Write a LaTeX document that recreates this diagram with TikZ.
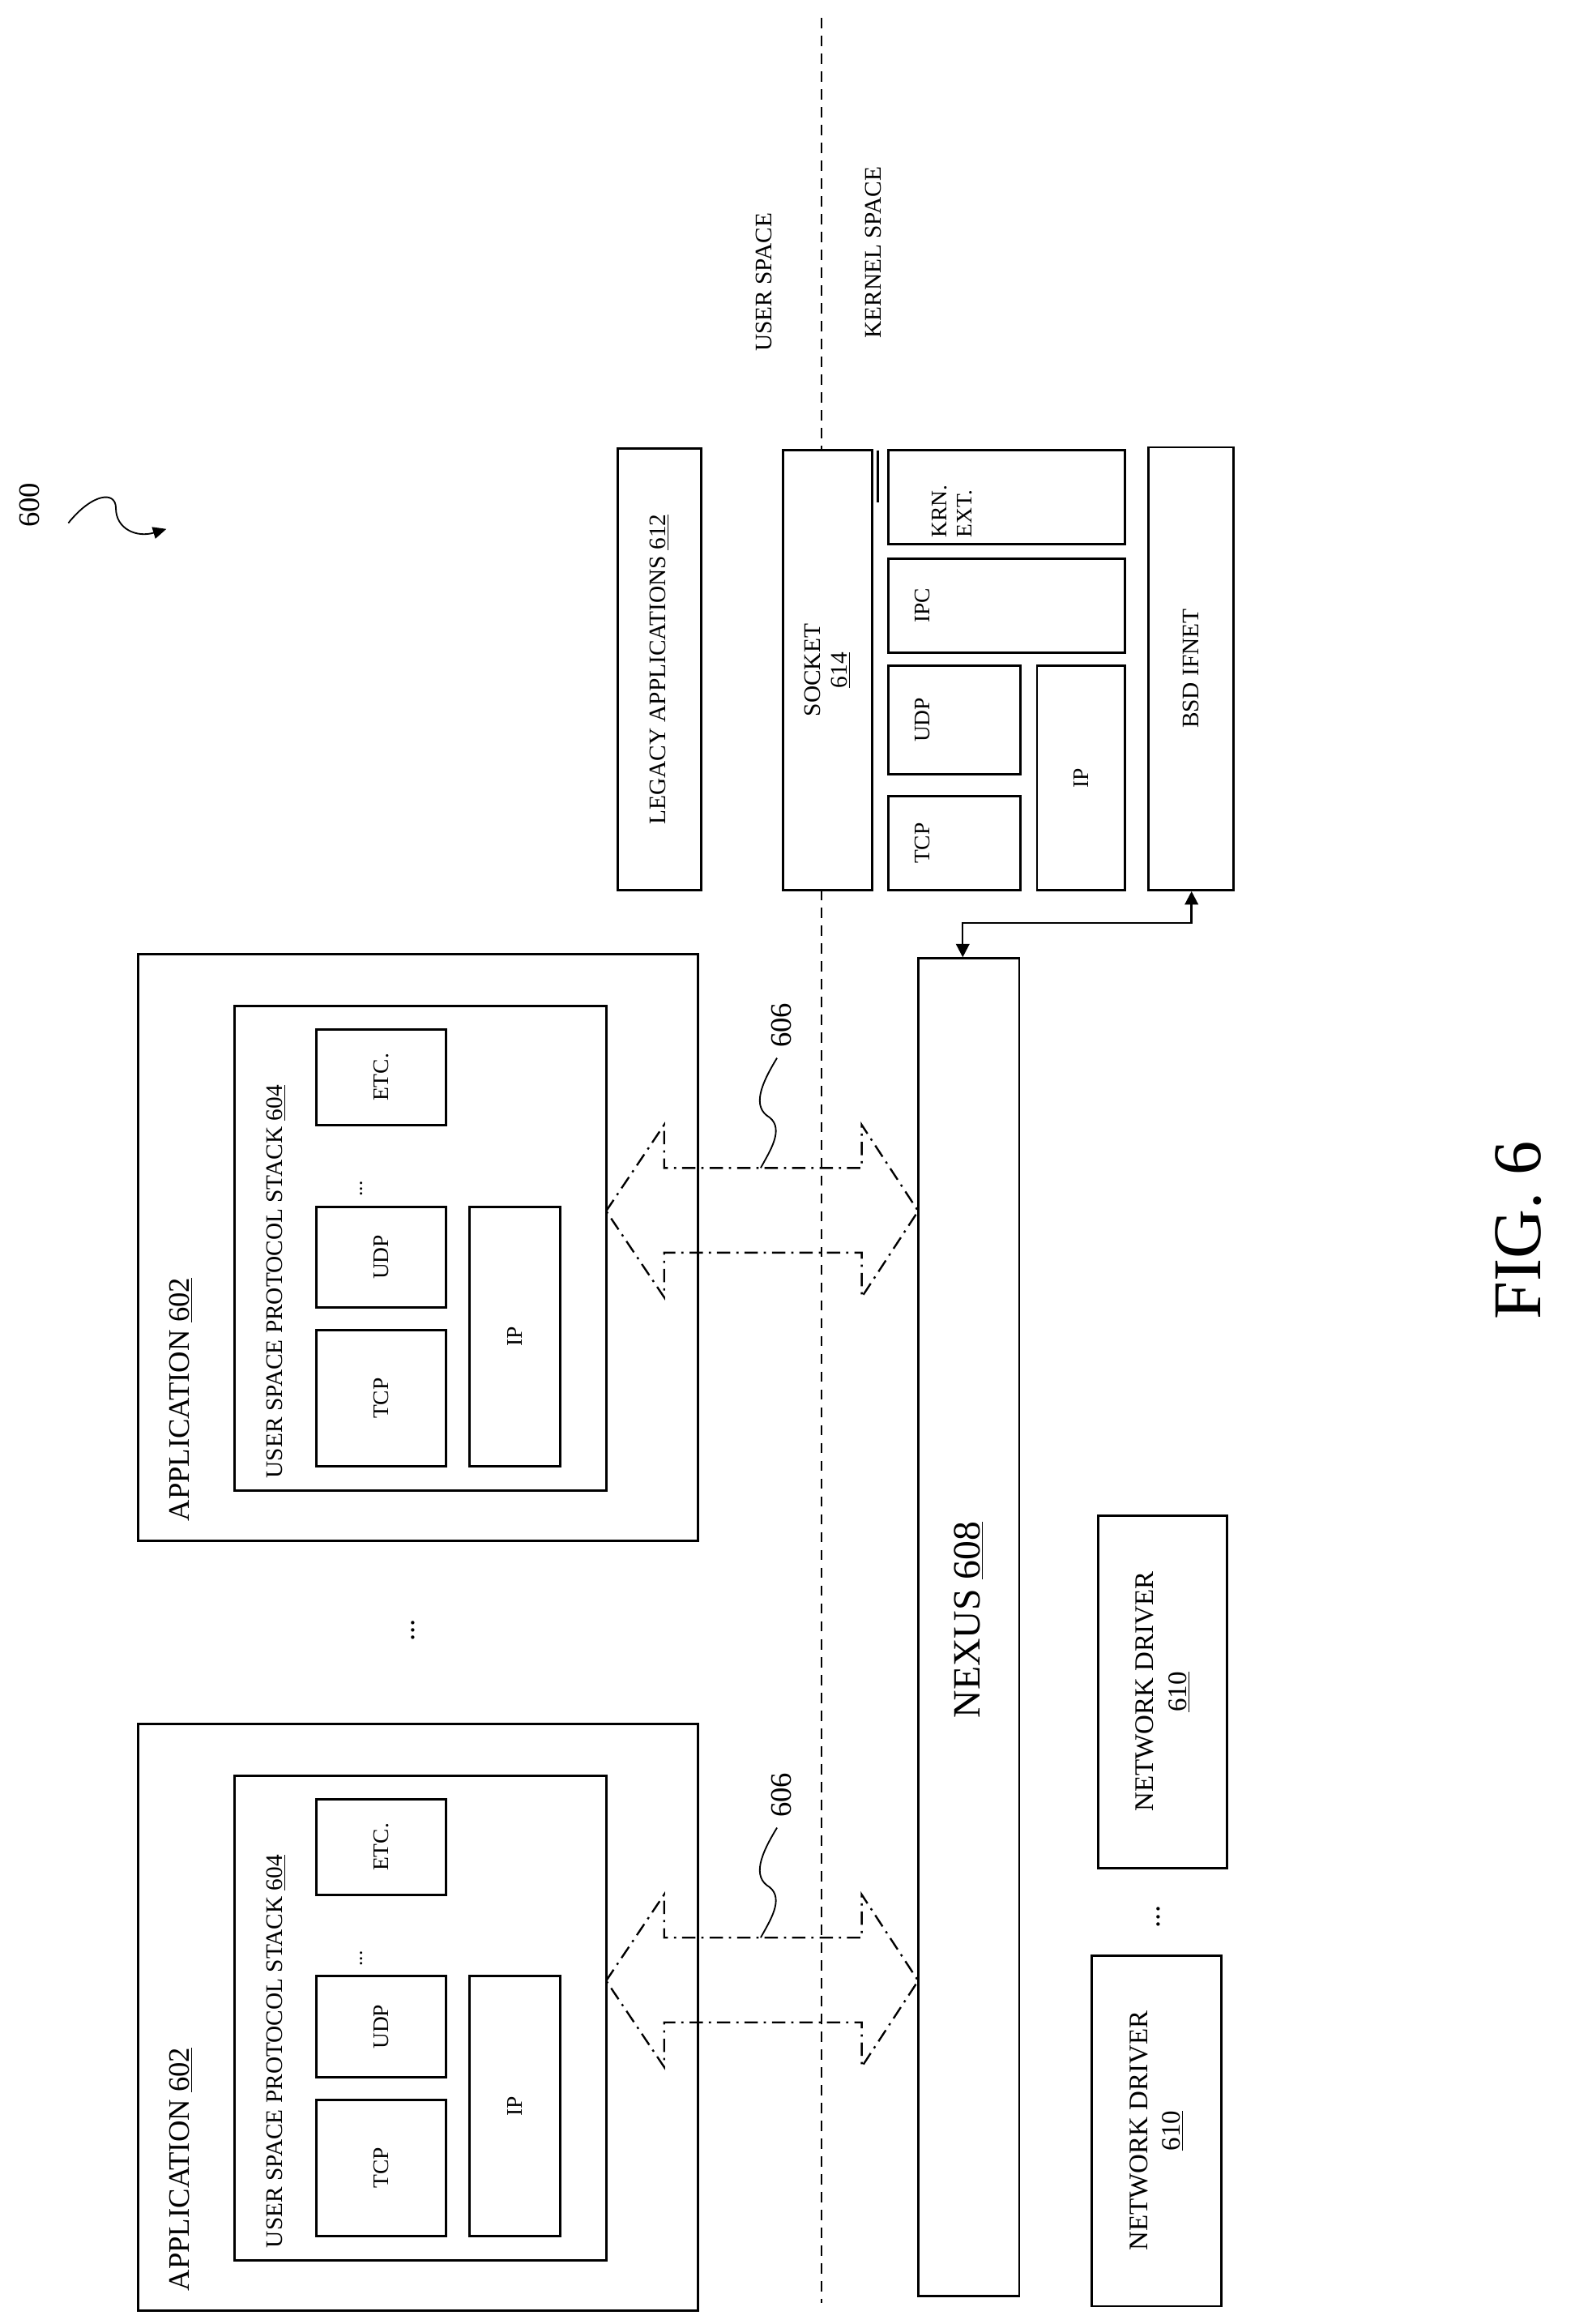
\documentclass[tikz,border=0pt]{standalone}
\usepackage{fontspec}
\setmainfont{Liberation Serif}
\usetikzlibrary{arrows.meta}
\begin{document}
\begin{tikzpicture}[x=1pt,y=-1pt,
  box/.style={draw,line width=1.6pt},
  lbl/.style={rotate=90,inner sep=0pt,font=\fontsize{16}{18}\selectfont},
  sm/.style={rotate=90,inner sep=0pt,font=\fontsize{15}{17}\selectfont,align=center},
  dd/.style={line width=1.3pt,dash pattern=on 9pt off 4pt on 1.5pt off 4pt},
  sq/.style={line width=1pt}]
\useasboundingbox (0,0) rectangle (1060,1564);
% dividing line
\draw[line width=0.9pt,dash pattern=on 7pt off 5pt] (553,12) -- (553,303);
\draw[line width=0.9pt,dash pattern=on 7pt off 5pt] (553,599) -- (553,1550);
\node[lbl] (us) at (514,190) {USER SPACE};
\node[lbl] (ks) at (588,170) {KERNEL SPACE};
% 600
\node[lbl,font=\fontsize{20}{22}\selectfont] (n600) at (20,340) {600};
\coordinate (a600) at (112,356);
\draw[sq,-{Triangle[length=9pt,width=8pt]}] (46,352) .. controls (62,332) and (78,330) .. (78,342) .. controls (78,356) and (92,362) .. (a600);
% kernel boxes
\node[box,minimum width=56pt,minimum height=297pt] (leg) at (444,450.5) {};
\node[lbl] at (leg) {LEGACY APPLICATIONS \underline{612}};
\node[box,minimum width=60pt,minimum height=296pt] (sock) at (557,451) {};
\node[sm,font=\fontsize{16}{18}\selectfont] at (sock) {SOCKET\\\underline{614}};
\draw[line width=1.6pt] (591,303) -- (591,338);
\node[box,minimum width=159pt,minimum height=63pt] (krn) at (677.5,334.5) {};
\node[sm,align=left,anchor=north] at (627,344) {KRN.\\EXT.};
\node[box,minimum width=159pt,minimum height=63pt] (ipc) at (677.5,407.5) {};
\node[sm] at (621,407.5) {IPC};
\node[box,minimum width=89pt,minimum height=73pt] (kudp) at (642.5,484.5) {};
\node[sm] at (621,484.5) {UDP};
\node[box,minimum width=89pt,minimum height=63pt] (ktcp) at (642.5,567.5) {};
\node[sm] at (621,567.5) {TCP};
\node[box,minimum width=59pt,minimum height=151pt] (kip) at (727.5,523.5) {};
\node[sm] at (kip) {IP};
\node[box,minimum width=57pt,minimum height=298pt] (bsd) at (801.5,450) {};
\node[sm,font=\fontsize{16}{18}\selectfont] at (bsd) {BSD IFNET};
% nexus
\node[box,minimum width=68pt,minimum height=900pt] (nex) at (652,1095) {};
\node[lbl,font=\fontsize{26}{28}\selectfont] at (652,1090) {NEXUS \underline{608}};
\coordinate (c1) at (648,621);
\coordinate (c2) at (802,621);
\draw[line width=1.3pt,{Triangle[length=9pt,width=9pt]}-{Triangle[length=9pt,width=9pt]}] (nex.north -| c1) -- (c1) -- (c2) -- (bsd.south -| c2);
% network drivers
\node[box,minimum width=87pt,minimum height=237pt] (nd1) at (782.5,1138.5) {};
\node[sm,font=\fontsize{18}{22}\selectfont] at (nd1) {NETWORK DRIVER\\\underline{610}};
\node[box,minimum width=87pt,minimum height=236pt] (nd2) at (778.5,1434) {};
\node[sm,font=\fontsize{18}{22}\selectfont] at (nd2) {NETWORK DRIVER\\\underline{610}};
\node[rotate=90,font=\fontsize{20}{20}\selectfont] (d3) at (780,1290) {...};
\node[rotate=90,font=\fontsize{20}{20}\selectfont] (d4) at (278,1097) {...};
% FIG
\node[lbl,font=\fontsize{46}{50}\selectfont] (fig) at (1022,828) {FIG. 6};
% applications
\foreach \o/\n in {0/a,518/b}{
  \begin{scope}[yshift=-\o pt]
  \node[box,minimum width=377pt,minimum height=395pt] (app\n) at (281.5,839.5) {};
  \node[lbl,anchor=west,font=\fontsize{20}{22}\selectfont] at (122,1024) {APPLICATION \underline{602}};
  \node[box,minimum width=250pt,minimum height=326pt] (st\n) at (283,840) {};
  \node[lbl,anchor=west] at (186,995) {USER SPACE PROTOCOL STACK \underline{604}};
  \node[box,minimum width=87pt,minimum height=92pt] (tcp\n) at (256.5,941) {};
  \node[sm] at (tcp\n) {TCP};
  \node[box,minimum width=87pt,minimum height=68pt] (udp\n) at (256.5,846) {};
  \node[sm] at (udp\n) {UDP};
  \node[box,minimum width=87pt,minimum height=64pt] (etc\n) at (256.5,725) {};
  \node[sm] at (etc\n) {ETC.};
  \node[rotate=90,font=\fontsize{14}{14}\selectfont] at (243,800) {...};
  \node[box,minimum width=61pt,minimum height=175pt] (ip\n) at (346.5,899.5) {};
  \node[sm] at (ip\n) {IP};
  \draw[dd] (408,815) -- (447,757) -- (447,786) -- (580,786) -- (580,757) -- (618,815) -- (580,873) -- (580,843) -- (447,843) -- (447,873) -- cycle;
  \node[lbl,font=\fontsize{20}{22}\selectfont] (l606\n) at (526,690) {606};
  \draw[sq] (523,712) .. controls (512,730) and (506,745) .. (518,752) .. controls (528,760) and (518,775) .. (512,786);
  \end{scope}}
\end{tikzpicture}
\end{document}
